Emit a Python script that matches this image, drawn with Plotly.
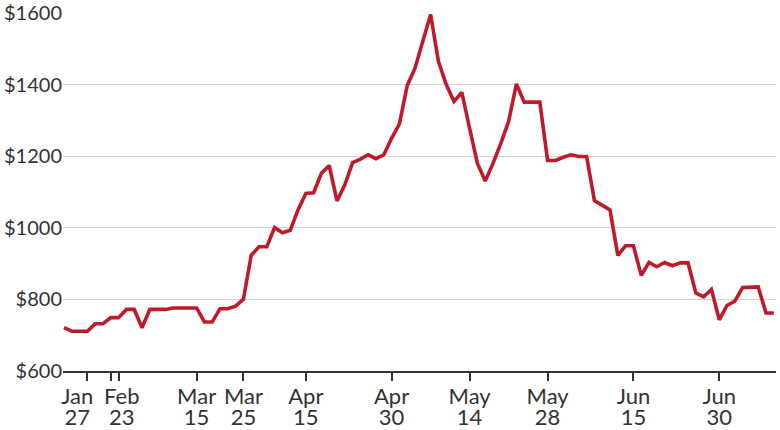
import plotly.graph_objects as go

# Price series, one value per trading session
prices = [721, 711, 711, 711, 732, 732, 749, 749, 772, 772,
          721, 772, 772, 772, 776, 776, 776, 776, 737, 737,
          774, 774, 781, 800, 923, 947, 947, 1001, 986, 993,
          1050, 1096, 1098, 1152, 1174, 1075, 1120, 1182, 1192, 1204,
          1193, 1204, 1250, 1290, 1397, 1446, 1521, 1596, 1465, 1400,
          1353, 1378, 1278, 1180, 1131, 1180, 1236, 1297, 1402, 1351,
          1351, 1351, 1188, 1188, 1197, 1204, 1199, 1199, 1076, 1064,
          1050, 923, 950, 950, 867, 903, 891, 903, 894, 902,
          902, 818, 807, 828, 743, 783, 795, 833, 835, 835,
          762, 762]
sessions = list(range(len(prices)))

# x-axis tick marks (session index) and two-line labels
tick_marks = [3, 6, 7, 17, 23, 31, 42, 52, 62, 73, 84]
label_pos = [1.7, 7.4, 17, 23, 31, 42, 52, 62, 73, 84]
month_text = ["Jan", "Feb", "Mar", "Mar", "Apr", "Apr", "May", "May", "Jun", "Jun"]
day_text = ["27", "23", "15", "25", "15", "30", "14", "28", "15", "30"]

y_ticks = [600, 800, 1000, 1200, 1400, 1600]
y_labels = ["$600", "$800", "$1000", "$1200", "$1400", "$1600"]

x_range = [-0.13, 91.28]
family = "Lato, 'Open Sans', sans-serif"
yfont = dict(family=family, size=20, color="#333333")
xfont = dict(family=family, size=22, color="#333333")

fig = go.Figure()
fig.add_trace(go.Scatter(x=sessions, y=prices, mode="lines",
                         line=dict(color="#BF1A2A", width=3.6),
                         hoverinfo="skip", showlegend=False))
# invisible traces carrying the label axes
for ax in ("x2", "x3"):
    fig.add_trace(go.Scatter(x=[x_range[0]], y=[600], xaxis=ax, mode="markers",
                             marker=dict(opacity=0), hoverinfo="skip", showlegend=False))

label_axis = dict(range=x_range, overlaying="x", side="bottom", anchor="y",
                  tickmode="array", tickvals=label_pos, ticks="outside",
                  tickcolor="rgba(0,0,0,0)", showgrid=False, zeroline=False,
                  showline=False, tickfont=xfont, automargin=False)

fig.update_layout(
    width=780, height=430,
    margin=dict(l=63, r=4, t=13, b=59, autoexpand=False),
    paper_bgcolor="white", plot_bgcolor="white",
    font=yfont,
    xaxis=dict(range=x_range, tickmode="array", tickvals=tick_marks,
               ticktext=[""] * len(tick_marks),
               ticks="outside", ticklen=8, tickwidth=2, tickcolor="#333333",
               showgrid=False, zeroline=False, automargin=False,
               showline=True, linecolor="#333333", linewidth=2),
    xaxis2=dict(label_axis, ticktext=month_text, ticklen=6),
    xaxis3=dict(label_axis, ticktext=day_text, ticklen=27),
    yaxis=dict(range=[600, 1600], tickmode="array", tickvals=y_ticks,
               ticktext=y_labels, ticks="", showgrid=True, automargin=False,
               gridcolor="#d2d2d2", gridwidth=1, zeroline=False,
               showline=False, tickfont=yfont),
)

fig.write_html("out.html", config={"displayModeBar": False},
               post_script="document.body.style.margin='0';")
